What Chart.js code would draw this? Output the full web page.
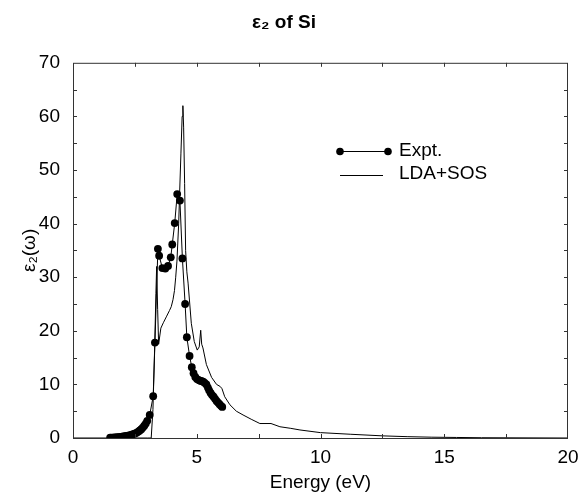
<!DOCTYPE html>
<html>
<head>
<meta charset="utf-8">
<script src="https://cdn.jsdelivr.net/npm/chart.js@4/dist/chart.umd.min.js"></script>
<style>
  body { margin: 0; background: #fff; }
  canvas { display: block; }
</style>
</head>
<body>
<canvas id="eps" width="579" height="498"></canvas>
<script>
// measured points (Expt.)
const exptEnergy = [1.50, 1.56, 1.62, 1.68, 1.74, 1.80, 1.86, 1.92, 1.98, 2.04, 2.10, 2.16, 2.22, 2.28, 2.34, 2.40, 2.46, 2.52, 2.58, 2.64, 2.70, 2.76, 2.82, 2.88, 2.94, 3.00, 3.10, 3.24, 3.31, 3.43, 3.48, 3.61, 3.73, 3.84, 3.95, 4.01, 4.11, 4.21, 4.32, 4.42, 4.53, 4.60, 4.71, 4.80, 4.87, 4.94, 5.01, 5.08, 5.14, 5.20, 5.26, 5.32, 5.39, 5.45, 5.50, 5.56, 5.62, 5.68, 5.74, 5.80, 5.86, 5.92, 5.98, 6.03];
const exptEps = [0.05, 0.06, 0.08, 0.10, 0.12, 0.15, 0.18, 0.21, 0.25, 0.29, 0.33, 0.38, 0.44, 0.50, 0.57, 0.65, 0.75, 0.88, 1.02, 1.20, 1.40, 1.65, 1.95, 2.30, 2.70, 3.20, 4.3, 7.8, 17.8, 35.3, 34.0, 31.7, 31.6, 32.1, 33.7, 36.1, 40.1, 45.5, 44.3, 33.5, 25.0, 18.8, 15.3, 13.2, 12.1, 11.4, 11.0, 10.8, 10.7, 10.6, 10.5, 10.3, 10.0, 9.4, 8.9, 8.4, 8.0, 7.7, 7.3, 6.9, 6.6, 6.3, 6.0, 5.8];

// calculated curve (LDA+SOS)
const ldaEnergy = [0, 1.5, 3.0, 3.16, 3.23, 3.30, 3.35, 3.38, 3.42, 3.46, 3.55, 3.65, 3.77, 3.90, 3.97, 4.04, 4.10, 4.15, 4.20, 4.27, 4.31, 4.36, 4.41, 4.44, 4.47, 4.51, 4.55, 4.60, 4.65, 4.78, 4.90, 5.02, 5.10, 5.16, 5.20, 5.25, 5.39, 5.60, 5.80, 5.95, 6.02, 6.13, 6.34, 6.60, 6.87, 7.20, 7.55, 8.00, 8.36, 8.80, 9.17, 10.0, 11.2, 12.5, 13.5, 14.5, 15.5, 16.5, 20];
const ldaEps = [0, 0, 0, 0, 5.3, 17.0, 27.0, 32.0, 24.0, 17.5, 20.5, 21.5, 22.6, 23.8, 24.5, 25.8, 27.5, 30.0, 33.0, 40.0, 46.0, 53.0, 60.0, 62.0, 58.0, 47.5, 35.0, 31.0, 28.9, 21.4, 18.0, 16.4, 17.0, 20.1, 17.5, 16.8, 13.7, 11.3, 10.0, 9.6, 9.2, 7.7, 6.2, 5.0, 4.3, 3.5, 2.7, 2.7, 2.1, 1.8, 1.5, 1.0, 0.7, 0.4, 0.25, 0.15, 0.1, 0.05, 0];

const xTicks = [0, 5, 10, 15, 20];
const yTicks = [0, 10, 20, 30, 40, 50, 60, 70];
const legendLabels = ["Expt.", "LDA+SOS"];

const FONT = "'Liberation Sans', Arial, Helvetica, sans-serif";

// frame, inward ticks and legend drawn on top of the plot
const framePlugin = {
  id: "frame",
  afterDraw(chart) {
    const { ctx, chartArea: a, scales } = chart;
    const x = scales.x, y = scales.y;
    ctx.save();
    ctx.strokeStyle = "#333";
    ctx.lineWidth = 1;
    ctx.strokeRect(a.left + 0.5, a.top + 0.5, a.right - a.left - 1, a.bottom - a.top);
    ctx.beginPath();
    for (let v = 2.5; v < 20; v += 2.5) {
      const px = Math.round(x.getPixelForValue(v)) + 0.5;
      ctx.moveTo(px, a.bottom); ctx.lineTo(px, a.bottom - 4);
      ctx.moveTo(px, a.top); ctx.lineTo(px, a.top + 4);
    }
    for (let v = 5; v < 70; v += 5) {
      const py = Math.round(y.getPixelForValue(v)) + 0.5;
      ctx.moveTo(a.left, py); ctx.lineTo(a.left + 4, py);
      ctx.moveTo(a.right, py); ctx.lineTo(a.right - 4, py);
    }
    ctx.stroke();

    // legend
    ctx.fillStyle = "#000";
    ctx.strokeStyle = "#000";
    ctx.font = "19px " + FONT;
    ctx.textBaseline = "middle";
    ctx.textAlign = "left";
    const lx = 340, tx = 399;
    ctx.beginPath();
    ctx.moveTo(lx, 151.5); ctx.lineTo(lx + 48, 151.5);
    ctx.moveTo(lx, 175.5); ctx.lineTo(lx + 43, 175.5);
    ctx.stroke();
    [lx, lx + 48].forEach(px => {
      ctx.beginPath(); ctx.arc(px, 151.5, 3.8, 0, Math.PI * 2); ctx.fill();
    });
    ctx.fillText(legendLabels[0], tx, 151);
    ctx.fillText(legendLabels[1], tx, 174);
    ctx.restore();
  }
};

new Chart(document.getElementById("eps"), {
  type: "line",
  data: {
    datasets: [
      {
        label: legendLabels[0],
        data: exptEnergy.map((e, i) => ({ x: e, y: exptEps[i] })),
        borderColor: "#000",
        backgroundColor: "#000",
        borderWidth: 1,
        pointRadius: 3.9,
        pointBorderWidth: 0,
        tension: 0,
        fill: false,
      },
      {
        label: legendLabels[1],
        data: ldaEnergy.map((e, i) => ({ x: e, y: ldaEps[i] })),
        borderColor: "#000",
        borderWidth: 1,
        pointRadius: 0,
        tension: 0,
        fill: false,
      },
    ],
  },
  options: {
    responsive: false,
    animation: false,
    layout: { autoPadding: false, padding: { left: 0, right: 11, top: 0, bottom: 0 } },
    scales: {
      x: {
        type: "linear",
        min: 0,
        max: 20,
        afterFit: (s) => { s.height = 60; s.paddingLeft = 0; s.paddingRight = 0; },
        afterBuildTicks: (s) => { s.ticks = xTicks.map(v => ({ value: v })); },
        grid: { display: false, drawTicks: false },
        border: { display: false },
        ticks: { padding: 8, color: "#000", font: { family: FONT, size: 19 } },
        title: {
          display: true,
          text: "Energy (eV)",
          color: "#000",
          font: { family: FONT, size: 19 },
          padding: { top: 0, bottom: 4 },
        },
      },
      y: {
        min: 0,
        max: 70,
        afterFit: (s) => { s.width = 73; s.paddingTop = 0; s.paddingBottom = 0; },
        afterBuildTicks: (s) => { s.ticks = yTicks.map(v => ({ value: v })); },
        grid: { display: false, drawTicks: false },
        border: { display: false },
        ticks: { padding: 13, color: "#000", font: { family: FONT, size: 19 } },
        title: {
          display: true,
          text: "ε₂(ω)",
          color: "#000",
          font: { family: FONT, size: 19 },
          padding: { top: 18, bottom: 0 },
        },
      },
    },
    plugins: {
      legend: { display: false },
      tooltip: { enabled: false },
      title: {
        display: true,
        text: "ε₂ of Si",
        color: "#000",
        font: { family: FONT, size: 19, weight: "bold" },
        padding: { top: 11, bottom: 29 },
      },
    },
  },
  plugins: [framePlugin],
});
</script>
</body>
</html>
